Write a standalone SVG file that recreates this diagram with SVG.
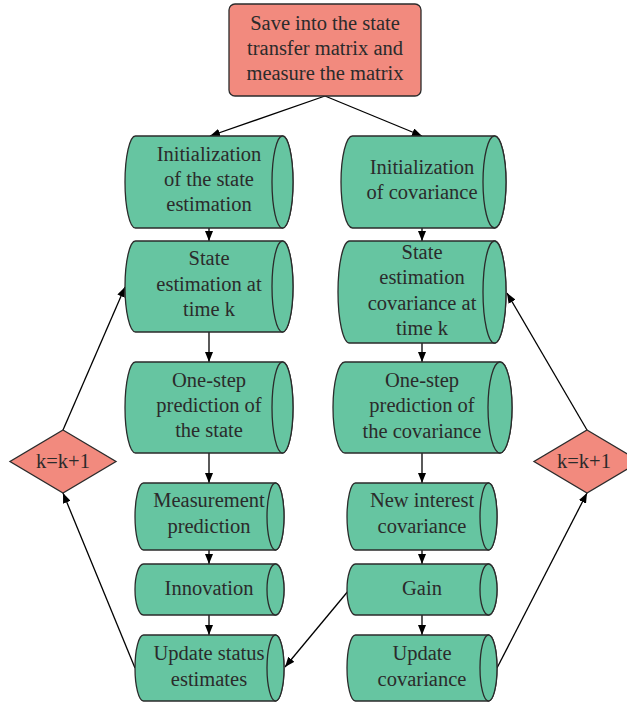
<svg xmlns="http://www.w3.org/2000/svg" width="627" height="703" viewBox="0 0 627 703">
<style>
.cyl{fill:#66c5a1;stroke:#2b2b2b;stroke-width:1.3}
.sal{fill:#f28a7e;stroke:#2b2b2b;stroke-width:1.3}
.t{font-family:"Liberation Serif",serif;font-size:20.5px;fill:#2b2b2b;text-anchor:middle}
.c{stroke:#000;stroke-width:1.3;fill:none;marker-end:url(#ah)}
</style>
<defs>
<marker id="ah" viewBox="0 0 10 8" refX="10" refY="4" markerWidth="10" markerHeight="8" markerUnits="userSpaceOnUse" orient="auto">
<path d="M0,0 L10,4 L0,8 Z" fill="#000"/>
</marker>
</defs>
<rect width="627" height="703" fill="#fff"/>

<g id="connectors">
<line class="c" x1="325" y1="96" x2="210" y2="136"/>
<line class="c" x1="325" y1="96" x2="422" y2="136"/>
<line class="c" x1="209" y1="228" x2="209" y2="241"/>
<line class="c" x1="209" y1="332" x2="209" y2="362"/>
<line class="c" x1="209" y1="453" x2="209" y2="483"/>
<line class="c" x1="209" y1="550" x2="209" y2="564"/>
<line class="c" x1="209" y1="615" x2="209" y2="635"/>
<line class="c" x1="422" y1="228" x2="422" y2="241"/>
<line class="c" x1="422" y1="343" x2="422" y2="362"/>
<line class="c" x1="422" y1="453" x2="422" y2="483"/>
<line class="c" x1="422" y1="550" x2="422" y2="564"/>
<line class="c" x1="422" y1="615" x2="422" y2="635"/>
<line class="c" x1="63" y1="430" x2="125" y2="287"/>
<line class="c" x1="135" y1="668" x2="63" y2="493"/>
<line class="c" x1="497" y1="668" x2="587" y2="493"/>
<line class="c" x1="587" y1="430" x2="507" y2="293"/>
<line class="c" x1="349" y1="590" x2="285" y2="667"/>
</g>

<g id="top">
<rect class="sal" x="229" y="4" width="192" height="92" rx="6"/>
<text class="t" x="325" y="30">Save into the state</text>
<text class="t" x="325" y="55">transfer matrix and</text>
<text class="t" x="325" y="80">measure the matrix</text>
</g>

<g id="init-state">
<path class="cyl" d="M135.5,136 H282.5 A10.5,46 0 0 1 282.5,228 H135.5 A10.5,46 0 0 1 135.5,136 Z"/>
<ellipse class="cyl" cx="282.5" cy="182" rx="10.5" ry="46"/>
<text class="t" x="209" y="161">Initialization</text>
<text class="t" x="209" y="186">of the state</text>
<text class="t" x="209" y="211">estimation</text>
</g>

<g id="state-k">
<path class="cyl" d="M135.5,241 H282.5 A10.5,45.5 0 0 1 282.5,332 H135.5 A10.5,45.5 0 0 1 135.5,241 Z"/>
<ellipse class="cyl" cx="282.5" cy="286.5" rx="10.5" ry="45.5"/>
<text class="t" x="209" y="265">State</text>
<text class="t" x="209" y="291">estimation at</text>
<text class="t" x="209" y="316">time k</text>
</g>

<g id="pred-state">
<path class="cyl" d="M135.5,362 H282.5 A10.5,45.5 0 0 1 282.5,453 H135.5 A10.5,45.5 0 0 1 135.5,362 Z"/>
<ellipse class="cyl" cx="282.5" cy="407.5" rx="10.5" ry="45.5"/>
<text class="t" x="209" y="387">One-step</text>
<text class="t" x="209" y="412">prediction of</text>
<text class="t" x="209" y="437">the state</text>
</g>

<g id="meas-pred">
<path class="cyl" d="M143.5,483 H275.5 A8.5,33.5 0 0 1 275.5,550 H143.5 A8.5,33.5 0 0 1 143.5,483 Z"/>
<ellipse class="cyl" cx="275.5" cy="516.5" rx="8.5" ry="33.5"/>
<text class="t" x="209" y="507">Measurement</text>
<text class="t" x="209" y="533">prediction</text>
</g>

<g id="innovation">
<path class="cyl" d="M143.5,564 H275.5 A8.5,25.5 0 0 1 275.5,615 H143.5 A8.5,25.5 0 0 1 143.5,564 Z"/>
<ellipse class="cyl" cx="275.5" cy="589.5" rx="8.5" ry="25.5"/>
<text class="t" x="209" y="595">Innovation</text>
</g>

<g id="update-status">
<path class="cyl" d="M143.5,635 H275.5 A8.5,33 0 0 1 275.5,701 H143.5 A8.5,33 0 0 1 143.5,635 Z"/>
<ellipse class="cyl" cx="275.5" cy="668" rx="8.5" ry="33"/>
<text class="t" x="209" y="660">Update status</text>
<text class="t" x="209" y="686">estimates</text>
</g>

<g id="init-cov">
<path class="cyl" d="M352.5,136 H494.5 A11.5,46 0 0 1 494.5,228 H352.5 A11.5,46 0 0 1 352.5,136 Z"/>
<ellipse class="cyl" cx="494.5" cy="182" rx="11.5" ry="46"/>
<text class="t" x="422" y="174">Initialization</text>
<text class="t" x="422" y="199">of covariance</text>
</g>

<g id="cov-k">
<path class="cyl" d="M349.5,241 H494.5 A11.5,51 0 0 1 494.5,343 H349.5 A11.5,51 0 0 1 349.5,241 Z"/>
<ellipse class="cyl" cx="494.5" cy="292" rx="11.5" ry="51"/>
<text class="t" x="422" y="259">State</text>
<text class="t" x="422" y="284">estimation</text>
<text class="t" x="422" y="310">covariance at</text>
<text class="t" x="422" y="335">time k</text>
</g>

<g id="pred-cov">
<path class="cyl" d="M345,362 H500 A12,45.5 0 0 1 500,453 H345 A12,45.5 0 0 1 345,362 Z"/>
<ellipse class="cyl" cx="500" cy="407.5" rx="12" ry="45.5"/>
<text class="t" x="422" y="387">One-step</text>
<text class="t" x="422" y="412">prediction of</text>
<text class="t" x="422" y="438">the covariance</text>
</g>

<g id="new-interest">
<path class="cyl" d="M355.5,483 H488.5 A8.5,33.5 0 0 1 488.5,550 H355.5 A8.5,33.5 0 0 1 355.5,483 Z"/>
<ellipse class="cyl" cx="488.5" cy="516.5" rx="8.5" ry="33.5"/>
<text class="t" x="422" y="507">New interest</text>
<text class="t" x="422" y="533">covariance</text>
</g>

<g id="gain">
<path class="cyl" d="M355.5,564 H488.5 A8.5,25.5 0 0 1 488.5,615 H355.5 A8.5,25.5 0 0 1 355.5,564 Z"/>
<ellipse class="cyl" cx="488.5" cy="589.5" rx="8.5" ry="25.5"/>
<text class="t" x="422" y="595">Gain</text>
</g>

<g id="update-cov">
<path class="cyl" d="M355.5,635 H488.5 A8.5,33 0 0 1 488.5,701 H355.5 A8.5,33 0 0 1 355.5,635 Z"/>
<ellipse class="cyl" cx="488.5" cy="668" rx="8.5" ry="33"/>
<text class="t" x="422" y="660">Update</text>
<text class="t" x="422" y="686">covariance</text>
</g>

<g id="k-left">
<polygon class="sal" points="63,430 116,461.5 63,493 10,461.5"/>
<text class="t" x="63" y="468">k=k+1</text>
</g>

<g id="k-right">
<polygon class="sal" points="587,430 640,461.5 587,493 534,461.5"/>
<text class="t" x="584" y="468">k=k+1</text>
</g>
</svg>
